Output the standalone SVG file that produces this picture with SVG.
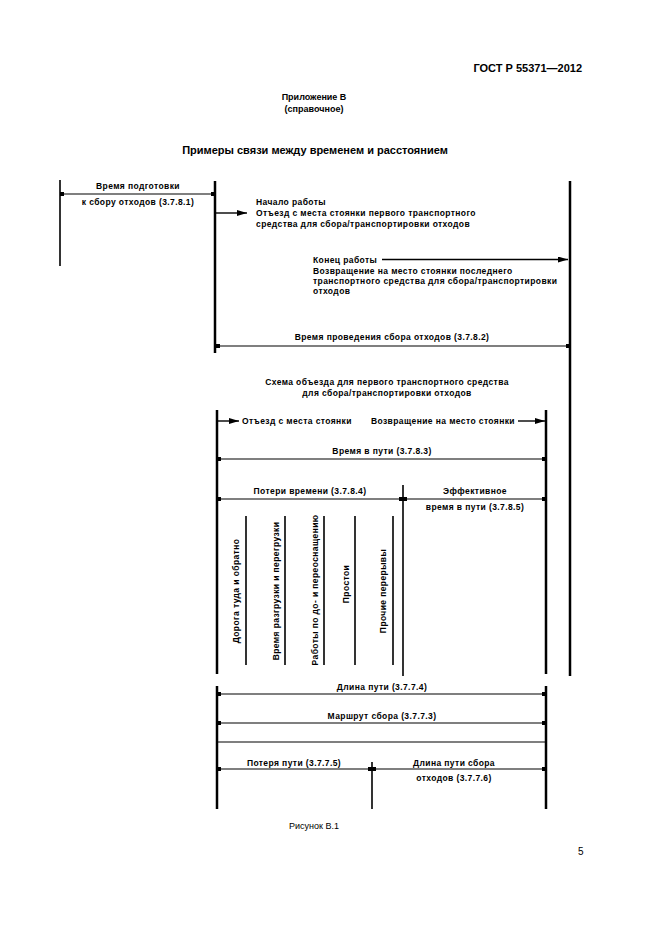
<svg xmlns="http://www.w3.org/2000/svg" width="661" height="935" viewBox="0 0 661 935">
<style>
text{font-family:"Liberation Sans",Arial,sans-serif;fill:#000}
.b{font-weight:bold;font-size:8.5px;letter-spacing:0.4px}
.c{text-anchor:middle}
.v{stroke:#000;stroke-width:2.5;fill:none}
.vt{stroke:#000;stroke-width:1.6;fill:none}
.h{stroke:#000;stroke-width:1.2;fill:none}
.dim{stroke:#000;stroke-width:1.2;fill:none;marker-start:url(#tk);marker-end:url(#tk)}
.arr{stroke:#000;stroke-width:1.4;fill:none;marker-end:url(#ah)}
</style>
<defs>
<marker id="tk" viewBox="0 0 4 4" refX="2" refY="2" markerWidth="4" markerHeight="4" markerUnits="userSpaceOnUse" orient="auto">
<rect x="0" y="0" width="4" height="4" fill="#000"/>
</marker>
<marker id="ah" viewBox="0 0 10 6" refX="10" refY="3" markerWidth="10" markerHeight="6" markerUnits="userSpaceOnUse" orient="auto">
<path d="M0,0 L10,3 L0,6 Z" fill="#000"/>
</marker>
</defs>
<rect width="661" height="935" fill="#fff"/>

<g id="header">
<text x="582" y="72" style="font-weight:bold;font-size:11px;text-anchor:end">ГОСТ Р 55371—2012</text>
<text x="314" y="100" class="c" style="font-weight:bold;font-size:9px">Приложение В</text>
<text x="314" y="112" class="c" style="font-weight:bold;font-size:9px">(справочное)</text>
<text x="315" y="154" class="c" style="font-weight:bold;font-size:11px">Примеры связи между временем и расстоянием</text>
</g>

<g id="connectors">
<line class="vt" x1="60" y1="180" x2="60" y2="266"/>
<line class="v" x1="215" y1="181" x2="215" y2="353"/>
<line class="v" x1="570" y1="181" x2="570" y2="676"/>
<line class="dim" x1="62" y1="194" x2="213" y2="194"/>
<line class="arr" x1="216" y1="213" x2="247" y2="213"/>
<line class="arr" x1="382" y1="259.5" x2="568" y2="259.5"/>
<line class="dim" x1="218" y1="346" x2="568" y2="346"/>
<line class="v" x1="217" y1="410" x2="217" y2="674"/>
<line class="v" x1="546" y1="410" x2="546" y2="674"/>
<line class="arr" x1="218" y1="421" x2="239" y2="421"/>
<line class="arr" x1="518" y1="421" x2="545" y2="421"/>
<line class="dim" x1="219" y1="459" x2="544" y2="459"/>
<line class="vt" x1="403" y1="485" x2="403" y2="676"/>
<line class="dim" x1="219" y1="499" x2="401" y2="499"/>
<line class="dim" x1="405" y1="499" x2="544" y2="499"/>
<line class="vt" x1="246" y1="516" x2="246" y2="665"/>
<line class="vt" x1="285" y1="516" x2="285" y2="665"/>
<line class="vt" x1="324" y1="516" x2="324" y2="665"/>
<line class="vt" x1="355" y1="516" x2="355" y2="665"/>
<line class="vt" x1="393" y1="516" x2="393" y2="665"/>
<line class="v" x1="217" y1="686" x2="217" y2="809"/>
<line class="v" x1="546" y1="686" x2="546" y2="809"/>
<line class="dim" x1="219" y1="694" x2="544" y2="694"/>
<line class="dim" x1="219" y1="723" x2="544" y2="723"/>
<line class="h" x1="217" y1="742" x2="546" y2="742"/>
<line class="vt" x1="372" y1="762" x2="372" y2="809"/>
<line class="dim" x1="219" y1="769" x2="370" y2="769"/>
<line class="dim" x1="374" y1="769" x2="544" y2="769"/>
</g>

<g id="prep-time">
<text x="138" y="189" class="b c">Время подготовки</text>
<text x="138" y="205" class="b c">к сбору отходов (3.7.8.1)</text>
</g>
<g id="work-start">
<text x="256" y="205" class="b">Начало работы</text>
<text x="256" y="216" class="b">Отъезд с места стоянки первого транспортного</text>
<text x="256" y="227" class="b">средства для сбора/транспортировки отходов</text>
</g>
<g id="work-end">
<text x="313" y="263" class="b">Конец работы</text>
<text x="313" y="274" class="b">Возвращение на место стоянки последнего</text>
<text x="313" y="284" class="b">транспортного средства для сбора/транспортировки</text>
<text x="313" y="294" class="b">отходов</text>
</g>
<g id="collection-time">
<text x="392" y="340" class="b c">Время проведения сбора отходов (3.7.8.2)</text>
</g>
<g id="route-scheme">
<text x="387" y="385" class="b c">Схема объезда для первого транспортного средства</text>
<text x="387" y="396" class="b c">для сбора/транспортировки отходов</text>
</g>
<g id="departure"><text x="242" y="424" class="b">Отъезд с места стоянки</text></g>
<g id="return"><text x="515" y="424" class="b" style="text-anchor:end">Возвращение на место стоянки</text></g>
<g id="travel-time"><text x="382" y="454" class="b c">Время в пути (3.7.8.3)</text></g>
<g id="time-loss"><text x="310" y="494" class="b c">Потери времени (3.7.8.4)</text></g>
<g id="effective-time">
<text x="475" y="494" class="b c">Эффективное</text>
<text x="475" y="510" class="b c">время в пути (3.7.8.5)</text>
</g>
<g id="loss-items">
<text transform="translate(239,591) rotate(-90)" class="b c">Дорога туда и обратно</text>
<text transform="translate(279,591) rotate(-90)" class="b c">Время разгрузки и перегрузки</text>
<text transform="translate(318,590) rotate(-90)" class="b c">Работы по до- и переоснащению</text>
<text transform="translate(349,584) rotate(-90)" class="b c">Простои</text>
<text transform="translate(386,591) rotate(-90)" class="b c">Прочие перерывы</text>
</g>
<g id="path-length"><text x="382" y="690" class="b c">Длина пути (3.7.7.4)</text></g>
<g id="collection-route"><text x="382" y="719" class="b c">Маршрут сбора (3.7.7.3)</text></g>
<g id="path-loss"><text x="294" y="766" class="b c">Потеря пути (3.7.7.5)</text></g>
<g id="collection-path">
<text x="454" y="766" class="b c">Длина пути сбора</text>
<text x="454" y="781" class="b c">отходов (3.7.7.6)</text>
</g>
<g id="footer">
<text x="314" y="829" class="c" style="font-size:9px">Рисунок В.1</text>
<text x="578" y="855" style="font-size:10px">5</text>
</g>
</svg>
